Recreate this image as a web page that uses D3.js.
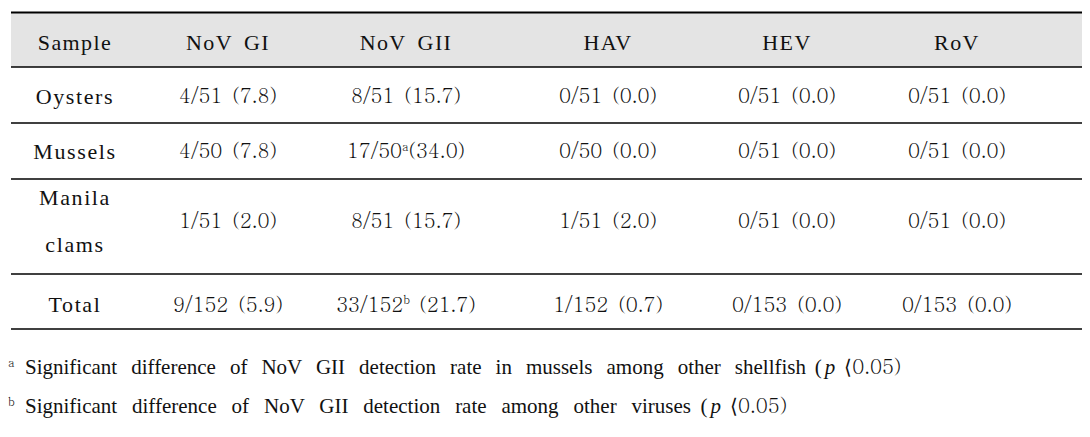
<!DOCTYPE html>
<html><head><meta charset="utf-8">
<script src="https://cdn.jsdelivr.net/npm/d3@7"></script>
</head><body style="margin:0;background:#fff">
<svg id="chart" width="1090" height="437"></svg>
<script>
// ---- data ----
const columns = ["Sample","NoV GI","NoV GII","HAV","HEV","RoV"];
const samples = [["Oysters"],["Mussels"],["Manila","clams"],["Total"]];
const positives = [
  ["4/51","8/51","0/51","0/51","0/51"],
  ["4/50","17/50","0/50","0/51","0/51"],
  ["1/51","8/51","1/51","0/51","0/51"],
  ["9/152","33/152","1/152","0/153","0/153"]
];
const rates = [
  ["7.8","15.7","0.0","0.0","0.0"],
  ["7.8","34.0","0.0","0.0","0.0"],
  ["2.0","15.7","2.0","0.0","0.0"],
  ["5.9","21.7","0.7","0.0","0.0"]
];
const marks = [
  ["","","","",""],
  ["","a","","",""],
  ["","","","",""],
  ["","b","","",""]
];
const footnotes = [
  {mark:"a", text:"Significant difference of NoV GII detection rate in mussels among other shellfish"},
  {mark:"b", text:"Significant difference of NoV GII detection rate among other viruses"}
];

// ---- layout ----
const WORD = "'Liberation Serif', 'Times New Roman', Tinos";
const NUM = "Batang, 'Liberation Serif'";
const svg = d3.select("#chart");
const left = 11, right = 1082;
const colCenters = [75, 228, 406, 608, 787, 957];
const x = d3.scaleOrdinal().domain(columns).range(colCenters);
const rowLines = [12.5, 67, 123, 179, 274, 329];
const rowShift = [1, 0, -5.5, 3];
const footEnds = [806, 691];

function txt(sel, fam){ return sel.style("font-family",fam).attr("fill","#111"); }

svg.append("rect").attr("x",left).attr("y",rowLines[0]).attr("width",right-left)
  .attr("height",rowLines[1]-rowLines[0]).attr("fill","#e4e4e4");

svg.selectAll("line.rule").data(rowLines).join("line").attr("class","rule")
  .attr("x1",left).attr("x2",right).attr("y1",d=>d).attr("y2",d=>d)
  .attr("stroke","#000").attr("stroke-width",(d,i)=> i===0 ? 2 : 1.6);

// header: words separated with extra gap
columns.forEach(c=>{
  const parts = c.split(" ");
  const t = txt(svg.append("text"), WORD).attr("x",x(c)).attr("y",42).attr("dy","0.35em")
    .attr("text-anchor","middle").attr("font-size",22).style("letter-spacing","1.4px");
  parts.forEach((p,k)=>{ t.append("tspan").attr("dx", k ? 11 : 0).text(p); });
});

samples.forEach((s,ri)=>{
  const cy = (rowLines[ri+1]+rowLines[ri+2])/2 + rowShift[ri];
  const lh = 47;
  s.forEach((w,li)=>{
    txt(svg.append("text"), WORD).attr("x",x(columns[0]))
      .attr("y", cy + (li-(s.length-1)/2)*lh).attr("dy","0.35em")
      .attr("text-anchor","middle").attr("font-size",22).style("letter-spacing","1.6px")
      .text(w);
  });
  positives[ri].forEach((p,ci)=>{
    const t = txt(svg.append("text"), NUM).attr("x",x(columns[ci+1])).attr("y",cy).attr("dy","0.35em")
      .attr("text-anchor","middle").attr("font-size",20);
    t.append("tspan").text(p);
    if (marks[ri][ci]) {
      t.append("tspan").attr("font-size",12).attr("dy","-0.6em").text(marks[ri][ci]);
      t.append("tspan").attr("dy","0.36em").attr("dx", marks[ri][ci]==="a" ? 0 : 9).text("(" + rates[ri][ci] + ")");
    } else {
      t.append("tspan").attr("dx",10).text("(" + rates[ri][ci] + ")");
    }
  });
});

footnotes.forEach((f,i)=>{
  const y = 371 + i*39;
  const t = txt(svg.append("text"), WORD).attr("x",8).attr("y",y).attr("dy","0.35em").attr("font-size",21);
  t.append("tspan").style("font-family",NUM).attr("font-size",12).attr("dy","-0.35em").text(f.mark);
  const main = t.append("tspan").attr("x",25).attr("dy","0.35em").text(f.text);
  const natural = main.node().getComputedTextLength();
  const nSpaces = (f.text.match(/ /g)||[]).length;
  const ws = Math.max(0, (footEnds[i] - 25 - natural) / nSpaces);
  main.style("word-spacing", ws + "px");
  t.append("tspan").attr("dx",ws).text("(");
  t.append("tspan").attr("font-style","italic").attr("dx",3).text("p");
  t.append("tspan").style("font-family",NUM).attr("font-size",20).attr("dx",9).text("\u27E80.05)");
});
</script>
</body></html>
